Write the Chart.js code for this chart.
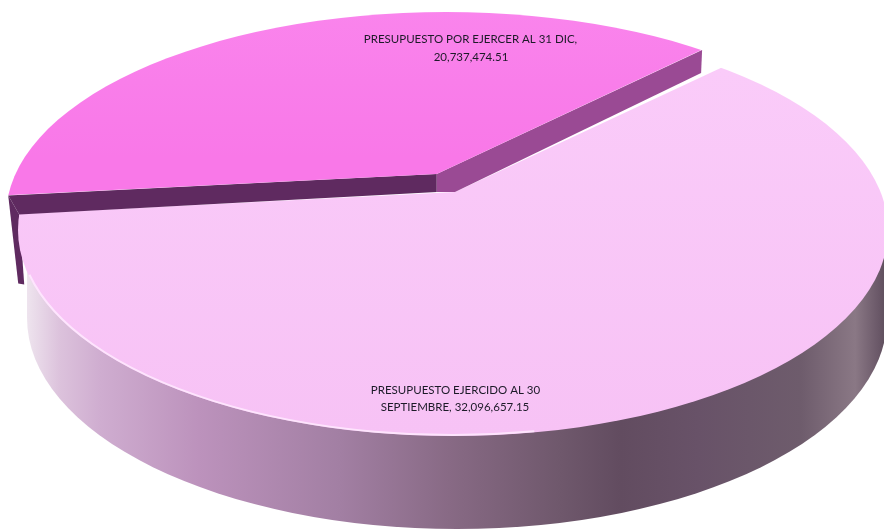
<!DOCTYPE html>
<html><head><meta charset="utf-8">
<style>html,body{margin:0;padding:0;background:#fff}canvas{display:block;filter:blur(.35px)}</style>
<script src="https://cdn.jsdelivr.net/npm/chart.js@4"></script></head>
<body><canvas id="c" width="884" height="531"></canvas>
<script>
const categories = ['PRESUPUESTO POR EJERCER AL 31 DIC', 'PRESUPUESTO EJERCIDO AL 30 SEPTIEMBRE'];
const values = [20737474.51, 32096657.15];

const TILT = 0.47;
const faces = [{cx:446,cy:216,a:440,b:204},{cx:453,cy:230,a:435,b:206}];
const rim = {cx:457,cy:318,a:430,b:211};
const rimStops = [[0,'#eee4ee'],[0.038,'#dcc2dc'],[0.085,'#cfadd0'],[0.2,'#bc92bc'],[0.364,'#a27fa3'],[0.49,'#886a85'],[0.62,'#6f586c'],[0.69,'#624c60'],[0.78,'#685268'],[0.9,'#6e5c6c'],[0.963,'#8a7885'],[0.99,'#6a5868'],[1,'#5c4d5a']];
const faceStops = [[[11,'#fa86ed'],[100,'#f97eea'],[175,'#f978e8']],[[70,'#facbf9'],[437,'#f7c2f5']]];
const sideDark = '#5f2a60', sideMid = '#9a4a94';
const textColor = '#1c1a28';

const money = v => v.toLocaleString('en-US',{minimumFractionDigits:2,maximumFractionDigits:2});
function labelLines(i){
  const w = categories[i].split(' ');
  if(i===0) return [categories[i]+',', money(values[i])];
  return [w.slice(0,4).join(' '), w.slice(4).join(' ')+', '+money(values[i])];
}
const labelPos = [[[470.5,39],[471,57]],[[455.5,390],[455,407]]];

function faceGrad(ctx){
  const chart = ctx.chart, i = ctx.dataIndex, el = chart.getDatasetMeta(0).data[i];
  const ay = el && el.y ? el.y : 192;
  const st = faceStops[i], y0 = st[0][0], y1 = st[st.length-1][0];
  const m = y => ay + (y-ay)/TILT;
  const g = chart.ctx.createLinearGradient(0,m(y0),0,m(y1));
  st.forEach(s=>g.addColorStop((s[0]-y0)/(y1-y0),s[1]));
  return g;
}
function ellipsePath(c,e){c.beginPath();c.ellipse(e.cx,e.cy,e.a,e.b,0,0,Math.PI*2);}
function rayHit(el,angle,e){
  const dx=Math.cos(angle),dy=TILT*Math.sin(angle);
  const px=(el.x+Math.cos((el.startAngle+el.endAngle)/2)*el.options.offset/4-e.cx)/e.a;
  const py=(el.y+TILT*Math.sin((el.startAngle+el.endAngle)/2)*el.options.offset/4-e.cy)/e.b;
  const ux=dx/e.a,uy=dy/e.b;
  const A=ux*ux+uy*uy,B=2*(px*ux+py*uy),C=px*px+py*py-1;
  const t=(-B+Math.sqrt(B*B-4*A*C))/(2*A);
  return {x:e.cx+(px+ux*t)*e.a,y:e.cy+(py+uy*t)*e.b,ax:e.cx+px*e.a,ay:e.cy+py*e.b};
}
function poly(c,pts,fill){c.beginPath();pts.forEach((p,i)=>i?c.lineTo(p[0],p[1]):c.moveTo(p[0],p[1]));c.closePath();c.fillStyle=fill;c.fill();}

const pie3d = {
  id:'pie3d',
  beforeDatasetDraw(chart){
    const c = chart.ctx, arcs = chart.getDatasetMeta(0).data, top = arcs[0], low = arcs[1];
    // lower rim, only the part below the pale face's widest line
    const g = c.createLinearGradient(rim.cx-rim.a,0,rim.cx+rim.a,0);
    rimStops.forEach(s=>g.addColorStop(s[0],s[1]));
    c.save();
    c.beginPath();c.rect(0,faces[1].cy,chart.width,chart.height);c.clip();
    c.fillStyle=g;
    ellipsePath(c,rim);c.fill();
    c.fillRect(rim.cx-rim.a,faces[1].cy,rim.a*2,rim.cy-faces[1].cy);
    c.restore();
    // magenta slice cut faces
    const L = rayHit(top,top.startAngle,faces[0]), R = rayHit(top,top.endAngle,faces[0]);
    poly(c,[[L.x,L.y],[L.x+11,L.y+19],[L.x+16,L.y+89],[L.x+10,L.y+88]],sideDark);
    arcs.slice().reverse().forEach((el,k)=>{
      const i = 1-k;
      if(i===0){
        poly(c,[[L.ax,L.ay],[L.x,L.y],[L.x+11,L.y+19],[L.ax,L.ay+18]],sideDark);
        poly(c,[[R.ax,R.ay],[R.x,R.y],[R.x-1,R.y+23],[low.x,low.y],[R.ax,R.ay+18]],sideMid);
      }
      c.save();
      ellipsePath(c,faces[i]);c.clip();
      c.translate(el.x,el.y);c.scale(1,TILT);c.translate(-el.x,-el.y);
      el.draw(c);
      c.restore();
    });
    // soft light edge on the front-left of the pale face
    c.save();
    c.beginPath();
    c.ellipse(faces[1].cx,faces[1].cy,faces[1].a-1,faces[1].b-1,0,0.44*Math.PI,0.93*Math.PI);
    c.strokeStyle='rgba(255,236,255,0.8)';c.lineWidth=2;c.filter='blur(0.7px)';c.stroke();
    c.restore();
    // labels
    c.font='11.5px Lato, "Open Sans", sans-serif';c.fillStyle=textColor;c.textAlign='center';c.textBaseline='middle';
    values.forEach((v,i)=>labelLines(i).forEach((t,j)=>c.fillText(t,labelPos[i][j][0],labelPos[i][j][1])));
    return false;
  }
};

new Chart(document.getElementById('c'),{
  type:'pie',
  data:{labels:categories,datasets:[{data:values,backgroundColor:faceGrad,borderWidth:0,offset:[170,0],radius:1300,clip:false}]},
  options:{
    responsive:false,animation:false,rotation:-96.1,
    layout:{padding:{left:26,bottom:147}},
    plugins:{legend:{display:false},tooltip:{enabled:false}}
  },
  plugins:[pie3d]
});
</script></body></html>
